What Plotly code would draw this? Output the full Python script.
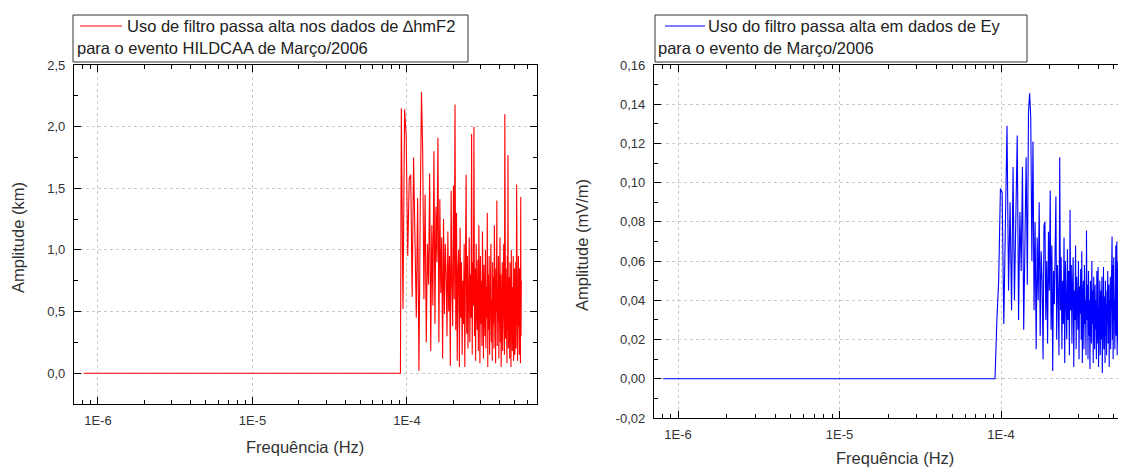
import numpy as np
import plotly.graph_objects as go

# ---------------- data ----------------
# Panel 1: high-pass filtered delta hmF2 (km)
freq_flat_dh = [8.1e-7, 9.08e-5]
amp_flat_dh = [0.0, 0.0]
freq_noise_start_dh = 9.2e-5
freq_noise_end_dh = 5.5e-4
amp_noise_dh = [
    2.15, 0.52, 2.14, 1.92, 0.95, 1.58, 1.61, 0.62, 1.75, 0.98,
    0.45, 1.42, 0.02, 1.30, 2.28, 1.80, 0.60, 1.45, 0.25, 1.05,
    0.72, 1.62, 0.18, 1.20, 0.55, 1.80, 0.40, 1.35, 0.90, 1.91,
    0.25, 1.41, 0.65, 1.10, 0.12, 1.25, 0.48, 1.05, 0.80, 0.30,
    1.15, 0.50, 0.95, 0.06, 1.48, 0.70, 0.38, 1.52, 0.60, 2.18,
    0.35, 1.30, 0.10, 0.85, 1.00, 0.05, 1.18, 0.45, 0.90, 0.15,
    0.75, 0.40, 1.05, 0.05, 0.88, 1.61, 0.32, 0.95, 0.20, 0.70,
    1.10, 0.25, 0.80, 0.45, 1.94, 0.15, 0.90, 0.55, 2.00, 0.30,
    0.85, 0.10, 1.05, 0.50, 0.35, 0.92, 0.18, 1.20, 0.60, 0.08,
    0.95, 0.40, 0.75, 0.22, 1.15, 0.50, 0.12, 0.88, 0.65, 0.30,
    1.00, 0.20, 0.70, 0.45, 1.30, 0.05, 0.80, 0.35, 0.95, 0.15,
    0.72, 0.48, 1.05, 0.25, 0.60, 0.10, 0.90, 0.40, 0.78, 0.20,
    1.20, 0.35, 0.65, 0.08, 0.85, 0.50, 1.40, 0.22, 0.70, 0.42,
    0.95, 0.12, 0.60, 0.38, 1.10, 0.25, 0.80, 0.05, 0.75, 0.45,
    0.90, 0.18, 0.62, 0.30, 1.05, 0.48, 0.15, 2.10, 0.55, 0.28,
    0.85, 0.40, 0.70, 0.08, 0.95, 0.35, 1.77, 0.20, 0.65, 0.45,
    0.78, 0.12, 0.90, 0.30, 0.55, 0.05, 1.00, 0.40, 0.70, 0.18,
    0.60, 0.35, 0.95, 0.10, 0.75, 0.28, 0.85, 0.15, 0.68, 0.42,
    0.90, 0.20, 0.55, 1.53, 0.32, 0.80, 0.10, 0.62, 0.38, 0.95,
    0.25, 0.70, 0.15, 0.85, 0.45, 0.60, 0.08, 1.43, 0.30, 0.75,
]

# Panel 2: high-pass filtered Ey (mV/m)
freq_flat_ey = [8.1e-7, 9.18e-5]
amp_flat_ey = [0.0, 0.0]
freq_noise_start_ey = 9.43e-5
freq_noise_end_ey = 5.8e-4
amp_noise_ey = [
    0.030, 0.050, 0.097, 0.095, 0.028, 0.082, 0.129, 0.045, 0.090, 0.035,
    0.108, 0.040, 0.075, 0.124, 0.030, 0.085, 0.055, 0.108, 0.025, 0.070,
    0.113, 0.048, 0.136, 0.1456, 0.133, 0.060, 0.121, 0.035, 0.080, 0.015,
    0.072, 0.040, 0.090, 0.022, 0.065, 0.050, 0.010, 0.078, 0.080, 0.030,
    0.060, 0.018, 0.075, 0.045, 0.096, 0.025, 0.068, 0.004, 0.055, 0.038,
    0.070, 0.093, 0.020, 0.058, 0.042, 0.012, 0.113, 0.035, 0.062, 0.015,
    0.050, 0.028, 0.072, 0.008, 0.060, 0.040, 0.020, 0.066, 0.030, 0.055,
    0.012, 0.086, 0.035, 0.058, 0.018, 0.048, 0.062, 0.006, 0.045, 0.030,
    0.068, 0.015, 0.052, 0.038, 0.025, 0.060, 0.010, 0.047, 0.033, 0.056,
    0.020, 0.065, 0.008, 0.042, 0.050, 0.015, 0.058, 0.028, 0.040, 0.012,
    0.0756, 0.030, 0.048, 0.010, 0.055, 0.022, 0.040, 0.005, 0.050, 0.035,
    0.018, 0.060, 0.028, 0.045, 0.008, 0.052, 0.032, 0.015, 0.048, 0.025,
    0.040, 0.010, 0.055, 0.030, 0.018, 0.057, 0.006, 0.042, 0.025, 0.050,
    0.012, 0.038, 0.045, 0.020, 0.052, 0.003, 0.035, 0.048, 0.057, 0.015,
    0.030, 0.042, 0.008, 0.050, 0.022, 0.038, 0.012, 0.045, 0.028, 0.055,
    0.018, 0.035, 0.048, 0.006, 0.040, 0.025, 0.052, 0.015, 0.038, 0.030,
    0.045, 0.0725, 0.020, 0.058, 0.010, 0.048, 0.062, 0.030, 0.040, 0.015,
    0.055, 0.035, 0.068, 0.022, 0.045, 0.070, 0.012, 0.050, 0.030, 0.060,
    0.018, 0.052, 0.038, 0.065, 0.008, 0.045, 0.028, 0.055, 0.020, 0.048,
    0.035, 0.060, 0.012, 0.042, 0.052, 0.025, 0.058, 0.015, 0.040, 0.030,
]

x_tick_vals = [1e-6, 1e-5, 1e-4]
x_tick_text = ["1E-6", "1E-5", "1E-4"]
y1_tick_vals = [0.0, 0.5, 1.0, 1.5, 2.0, 2.5]
y1_tick_text = ["0,0", "0,5", "1,0", "1,5", "2,0", "2,5"]
y2_tick_vals = [-0.02, 0.0, 0.02, 0.04, 0.06, 0.08, 0.10, 0.12, 0.14, 0.16]
y2_tick_text = ["-0,02", "0,00", "0,02", "0,04", "0,06", "0,08", "0,10", "0,12", "0,14", "0,16"]

legend1_line1 = "Uso de filtro passa alta nos dados de ∆hmF2"
legend1_line2 = "para o evento HILDCAA de Março/2006"
legend2_line1 = "Uso do filtro passa alta em dados de Ey"
legend2_line2 = "para o evento de Março/2006"
x_title = "Frequência (Hz)"
y1_title = "Amplitude (km)"
y2_title = "Amplitude (mV/m)"

# ---------------- build ----------------
OFF = 8  # default page body margin
W, H = 1126 - OFF, 468 - OFF
FONT = "Arial, Liberation Sans, sans-serif"


def px(x):
    return (x - OFF) / W


def py(y):
    return 1 - (y - OFF) / H


freq_dh = freq_flat_dh + list(np.linspace(freq_noise_start_dh, freq_noise_end_dh, len(amp_noise_dh)))
amp_dh = amp_flat_dh + amp_noise_dh
freq_ey = freq_flat_ey + list(np.linspace(freq_noise_start_ey, freq_noise_end_ey, len(amp_noise_ey)))
amp_ey = amp_flat_ey + amp_noise_ey

minor_x = [k * 10.0 ** e for e in range(-7, -3) for k in range(2, 10)]
minor_y1 = [0.25, 0.75, 1.25, 1.75, 2.25]
minor_y2 = [-0.01, 0.01, 0.03, 0.05, 0.07, 0.09, 0.11, 0.13, 0.15]

fig = go.Figure()
fig.add_trace(go.Scatter(x=freq_dh, y=amp_dh, mode="lines",
                         line=dict(color="#ff0000", width=1.1), xaxis="x", yaxis="y",
                         showlegend=False))
fig.add_trace(go.Scatter(x=freq_ey, y=amp_ey, mode="lines",
                         line=dict(color="#0000ff", width=1.1), xaxis="x2", yaxis="y2",
                         showlegend=False))

common_axis = dict(
    showline=True, linecolor="black", linewidth=1.3,
    ticks="inside", ticklen=7, tickwidth=1, tickcolor="black",
    showgrid=True, gridcolor="#c8c8c8", griddash="dot", gridwidth=1,
    zeroline=False, tickfont=dict(family=FONT, size=13, color="#333333"),
    automargin=False, tickmode="array",
)

fig.update_layout(
    width=W, height=H,
    margin=dict(l=0, r=0, t=0, b=0),
    paper_bgcolor="white", plot_bgcolor="white",
    font=dict(family=FONT, color="#222222"),
    xaxis=dict(common_axis, type="log", range=[-6.155, -3.158],
               domain=[px(74), px(537)], anchor="y",
               tickvals=x_tick_vals, ticktext=x_tick_text, mirror="ticks",
               ticklabelstandoff=4,
               minor=dict(tickmode="array", tickvals=minor_x, ticks="inside",
                          ticklen=4, tickcolor="black", showgrid=False)),
    yaxis=dict(common_axis, range=[-0.25, 2.5],
               domain=[py(404), py(65)], anchor="x",
               tickvals=y1_tick_vals, ticktext=y1_tick_text, mirror="ticks",
               ticklabelstandoff=5,
               minor=dict(tickmode="array", tickvals=minor_y1, ticks="inside",
                          ticklen=4, tickcolor="black", showgrid=False)),
    xaxis2=dict(common_axis, type="log", range=[-6.1486, -3.226],
                domain=[px(654), 1.0], anchor="y2",
                tickvals=x_tick_vals, ticktext=x_tick_text, mirror="ticks",
                ticklabelstandoff=4,
                minor=dict(tickmode="array", tickvals=minor_x, ticks="inside",
                           ticklen=4, tickcolor="black", showgrid=False)),
    yaxis2=dict(common_axis, range=[-0.02, 0.16],
                domain=[py(418), py(65)], anchor="x2",
                tickvals=y2_tick_vals, ticktext=y2_tick_text, mirror=False,
                ticklabelstandoff=5,
                minor=dict(tickmode="array", tickvals=minor_y2, ticks="inside",
                           ticklen=4, tickcolor="black", showgrid=False)),
)

shapes = []
annotations = []


def add_legend(x0, x1, y0, y1, lx0, lx1, ly, tx1, tx2, color, t1, t2):
    shapes.append(dict(type="rect", xref="paper", yref="paper",
                       x0=px(x0), x1=px(x1), y0=py(y1), y1=py(y0),
                       line=dict(color="#333333", width=1), fillcolor="white"))
    shapes.append(dict(type="line", xref="paper", yref="paper",
                       x0=px(lx0), x1=px(lx1), y0=py(ly), y1=py(ly),
                       line=dict(color=color, width=1)))
    annotations.append(dict(text=t1, xref="paper", yref="paper", x=px(tx1), y=py(ly),
                            xanchor="left", yanchor="middle", showarrow=False,
                            font=dict(family=FONT, size=16.5, color="#222222")))
    annotations.append(dict(text=t2, xref="paper", yref="paper", x=px(tx2), y=py(ly + 22),
                            xanchor="left", yanchor="middle", showarrow=False,
                            font=dict(family=FONT, size=16.5, color="#222222")))


add_legend(73, 468, 15, 62, 80, 122, 26, 125, 75, "#ff0000", legend1_line1, legend1_line2)
add_legend(655, 1027, 15, 62, 665, 705, 26, 706, 656, "#0000ff", legend2_line1, legend2_line2)


def add_title(text, x, y, angle=0):
    annotations.append(dict(text=text, xref="paper", yref="paper", x=px(x), y=py(y),
                            xanchor="center", yanchor="middle", showarrow=False,
                            textangle=angle,
                            font=dict(family=FONT, size=16.5, color="#333333")))


add_title(y1_title, 18, 238, -90)
add_title(x_title, 305, 447)
add_title(y2_title, 582, 245, -90)
add_title(x_title, 895, 458)

fig.update_layout(shapes=shapes, annotations=annotations)
fig.write_html("out.html")
